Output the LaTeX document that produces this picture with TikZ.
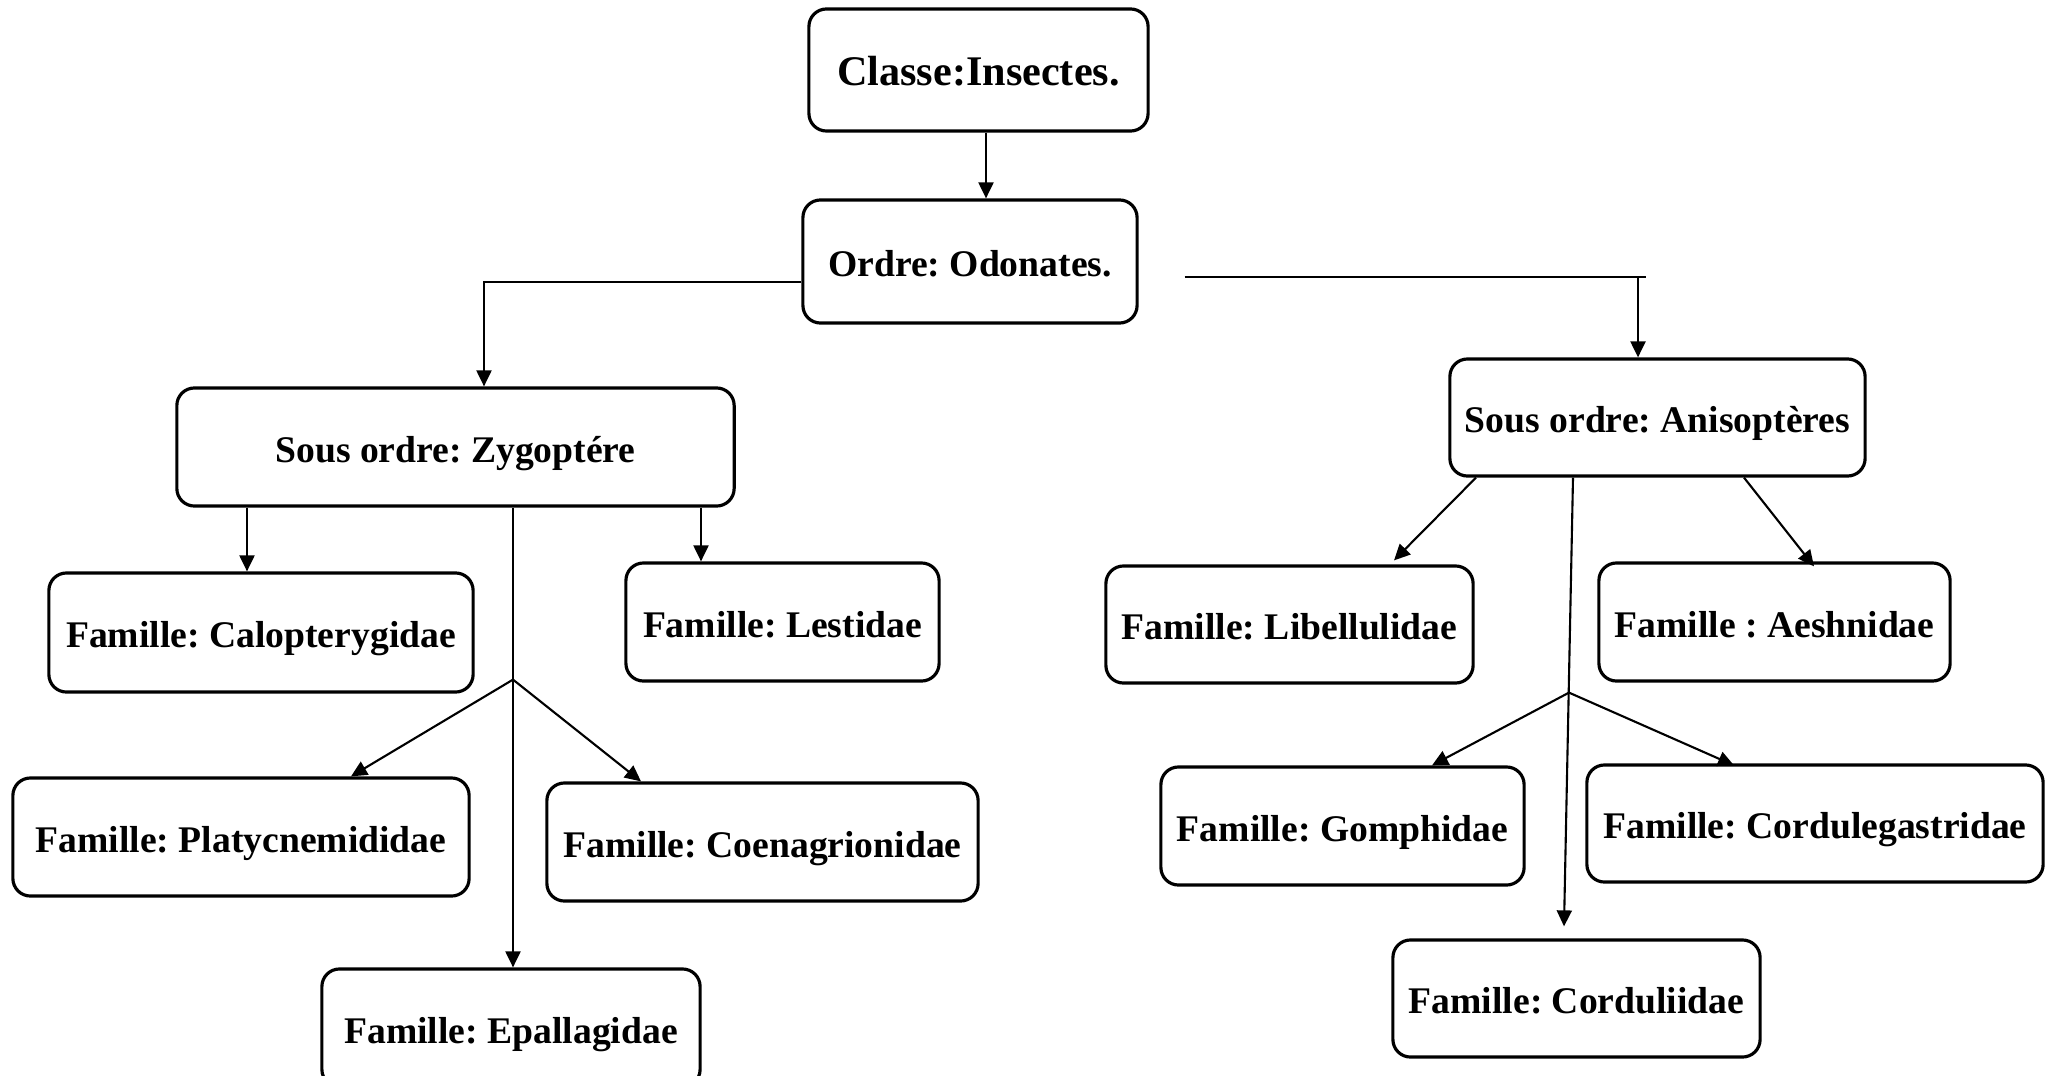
\documentclass[tikz,border=0pt]{standalone}
\usepackage{fontspec}
\setmainfont{Liberation Serif}
\usetikzlibrary{arrows.meta,positioning,calc}
\frenchspacing

\begin{document}
\begin{tikzpicture}[x=0.01cm,y=-0.01cm,
  box/.style={draw,line width=0.9pt,rounded corners=5pt,minimum height=1.18cm,inner sep=0pt,text height=8.6pt,text depth=0pt,align=center,font=\fontsize{10.7}{12}\selectfont\bfseries},
  arrow/.style={-{Triangle[length=1.6mm,width=1.5mm]},line width=0.6pt}
]
\useasboundingbox (0,0) rectangle (2051,1076);
\clip (0,0) rectangle (2051,1076);

% top of the tree
\node[box,minimum width=3.39cm,minimum height=1.22cm,text height=9.1pt,font=\fontsize{12}{14}\selectfont\bfseries] (classe) at (978.5,70) {Classe:Insectes.};
\node[box,minimum width=3.34cm,minimum height=1.23cm] (ordre) at (970,261.5) {Ordre: Odonates.};
\node[box,minimum width=5.57cm] (zygo) at (455.5,447) {Sous ordre: Zygoptére};
\node[box,minimum width=4.15cm,minimum height=1.17cm] (aniso) at (1657.5,417.5) {Sous ordre: Anisoptères};

% Zygopteres families
\node[box,minimum width=4.24cm,minimum height=1.19cm] (calo) at (261,632.5) {Famille: Calopterygidae};
\node[box,minimum width=3.13cm] (lesti) at (782.5,622) {Famille: Lestidae};
\node[box,minimum width=4.56cm] (platy) at (241,837) {Famille: Platycnemididae};
\node[box,minimum width=4.31cm] (coena) at (762.5,842) {Famille: Coenagrionidae};
\node[box,minimum width=3.78cm] (epall) at (511,1028) {Famille: Epallagidae};

% Anisopteres families
\node[box,minimum width=3.67cm,minimum height=1.17cm] (libel) at (1289.5,624.5) {Famille: Libellulidae};
\node[box,minimum width=3.51cm] (aesh) at (1774.5,622) {Famille : Aeshnidae};
\node[box,minimum width=3.63cm] (gomph) at (1342.5,826) {Famille: Gomphidae};
\node[box,minimum width=4.56cm,minimum height=1.17cm] (cordg) at (1815,823.5) {Famille: Cordulegastridae};
\node[box,minimum width=3.67cm,minimum height=1.17cm] (cordl) at (1576.5,998.5) {Famille: Corduliidae};

\coordinate (c1) at ($(classe.south)+(7.5,0)$);
\draw[arrow] (c1) -- (c1 |- ordre.north);

\coordinate (oleft) at ($(ordre.west)+(0,20.5)$);
\draw[arrow] (oleft) -| ($(zygo.north)+(28.5,0)$);
\coordinate (oright) at ($(ordre.east)+(46,15.5)$);
\coordinate (atop) at ($(aniso.north)+(-19.5,0)$);
\draw (oright) -- ++(461,0);
\draw[arrow] (oright -| atop) -- (atop);

% Zygopteres links
\coordinate (zbr) at ($(zygo.south)+(57.5,172)$);
\draw[arrow] ($(zygo.south)+(-208.5,0)$) -- ($(calo.north)+(-14,0)$);
\draw[arrow] ($(zygo.south)+(245.5,0)$) -- ($(lesti.north)+(-81.5,0)$);
\draw[arrow] (zygo.south -| zbr) -- (zbr |- epall.north);
\draw[arrow] (zbr) -- ($(platy.north)+(110,0)$);
\draw[arrow] (zbr) -- ($(coena.north)+(-121.5,0)$);

% Anisopteres links
\coordinate (abr) at ($(aniso.south)+(-88.5,215)$);
\draw[arrow] ($(aniso.south)+(-181.5,0)$) -- ($(libel.north)+(104.5,-4)$);
\draw[arrow] ($(aniso.south)+(86.5,0)$) -- ($(aesh.north)+(39.5,5)$);
\draw[arrow] ($(aniso.south)+(-84.5,0)$) -- ($(cordl.north)+(-12.5,-12)$);
\draw[arrow] (abr) -- ($(gomph.north)+(89.5,0)$);
\draw[arrow] (abr) -- ($(cordg.north)+(-81,2)$);
\end{tikzpicture}
\end{document}
